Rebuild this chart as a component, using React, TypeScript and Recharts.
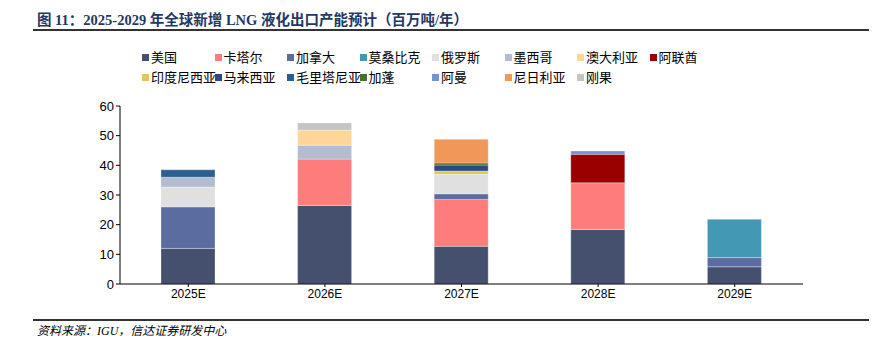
import React from 'react';
import { BarChart, Bar, XAxis, YAxis, Legend } from 'recharts';

const categories = ['2025E', '2026E', '2027E', '2028E', '2029E'];
const seriesNames = ['美国', '卡塔尔', '加拿大', '莫桑比克', '俄罗斯', '墨西哥', '澳大利亚', '阿联酋', '印度尼西亚', '马来西亚', '毛里塔尼亚', '加蓬', '阿曼', '尼日利亚', '刚果'];
const seriesColors = ['#45506e', '#ff7c7c', '#5b6ca0', '#4399b4', '#e0e0e0', '#b3bcd0', '#ffd599', '#990000', '#e0c45c', '#2a4a80', '#2a5f92', '#4a7030', '#7094d4', '#f0985a', '#c4c4c4'];

const usa = [12, 26.5, 12.7, 18.4, 5.8];
const qatar = [0, 15.6, 15.8, 15.7, 0];
const canada = [14, 0, 1.9, 0, 3.1];
const mozambique = [0, 0, 0, 0, 12.9];
const russia = [6.7, 0, 6.6, 0, 0];
const mexico = [3.3, 4.7, 0, 0, 0];
const australia = [0, 5.1, 0, 0, 0];
const uae = [0, 0, 0, 9.6, 0];
const indonesia = [0, 0, 1.1, 0, 0];
const malaysia = [0, 0, 2.0, 0, 0];
const mauritania = [2.5, 0, 0, 0, 0];
const gabon = [0, 0, 0.7, 0, 0];
const oman = [0, 0, 0, 1.1, 0];
const nigeria = [0, 0, 8.0, 0, 0];
const congo = [0, 2.4, 0, 0, 0];

const seriesValues = [usa, qatar, canada, mozambique, russia, mexico, australia, uae, indonesia, malaysia, mauritania, gabon, oman, nigeria, congo];
const yTicks = [0, 10, 20, 30, 40, 50, 60];

const data = categories.map((c, i) => {
  const row: Record<string, number | string> = { name: c };
  seriesNames.forEach((s, j) => {
    row[s] = seriesValues[j][i];
  });
  return row;
});

const LegendContent = () => (
  <div style={{ position: 'relative', width: 874, height: 44 }}>
    {seriesNames.map((s, i) => {
      const row = i < 8 ? 0 : 1;
      const col = i < 8 ? i : i - 8;
      return (
        <div
          key={s}
          style={{
            position: 'absolute',
            left: 142 + col * 72.5,
            top: row * 20,
            display: 'flex',
            alignItems: 'center',
            fontFamily: '"Noto Sans CJK SC", sans-serif',
            fontSize: 13,
            color: '#000',
            whiteSpace: 'nowrap',
            lineHeight: '18px',
          }}
        >
          <span style={{ display: 'inline-block', width: 7, height: 7, background: seriesColors[i], marginRight: 2 }} />
          <span>{s}</span>
        </div>
      );
    })}
  </div>
);

export default function App() {
  return (
    <div style={{ position: 'absolute', left: 0, top: 0, width: 874, height: 344, background: '#fff', overflow: 'hidden' }}>
      <div
        style={{
          position: 'absolute',
          left: 37,
          top: 8,
          fontFamily: '"Liberation Serif", "Noto Sans CJK SC", serif',
          fontWeight: 'bold',
          fontSize: 14.5,
          color: '#1f3864',
          whiteSpace: 'nowrap',
        }}
      >
        图 11：2025-2029 年全球新增 LNG 液化出口产能预计（百万吨/年）
      </div>
      <div style={{ position: 'absolute', left: 33, top: 29, width: 836, height: 2, background: '#333' }} />
      <BarChart
        width={874}
        height={344}
        data={data}
        margin={{ top: 62, right: 71, bottom: 30, left: 80 }}
        barSize={54}
      >
        <XAxis
          dataKey="name"
          tick={{ fontFamily: '"Liberation Sans", Arial, sans-serif', fontSize: 12, fill: '#000' }}
          tickLine={{ stroke: '#000' }}
          tickSize={3}
          axisLine={{ stroke: '#000' }}
          interval={0}
          height={30}
        />
        <YAxis
          domain={[0, 60]}
          ticks={yTicks}
          tick={{ fontFamily: '"Liberation Sans", Arial, sans-serif', fontSize: 13, fill: '#000' }}
          tickLine={{ stroke: '#000' }}
          tickSize={4}
          axisLine={{ stroke: '#000' }}
          width={40}
          interval={0}
        />
        <Legend
          content={() => <LegendContent />}
          wrapperStyle={{ position: 'absolute', left: 0, top: 48, width: 874 }}
          verticalAlign="top"
        />
        {seriesNames.map((s, i) => (
          <Bar
            key={s}
            dataKey={s}
            stackId="a"
            fill={seriesColors[i]}
            stroke="#ffffff"
            strokeOpacity={0.5}
            strokeWidth={0.6}
            isAnimationActive={false}
          />
        ))}
      </BarChart>
      <div style={{ position: 'absolute', left: 33, top: 319, width: 836, height: 2, background: '#333' }} />
      <div
        style={{
          position: 'absolute',
          left: 37,
          top: 321,
          fontFamily: '"Liberation Serif", "Noto Sans CJK SC", serif',
          fontStyle: 'italic',
          fontSize: 12,
          color: '#000',
          whiteSpace: 'nowrap',
        }}
      >
        资料来源：IGU，信达证券研发中心
      </div>
    </div>
  );
}
